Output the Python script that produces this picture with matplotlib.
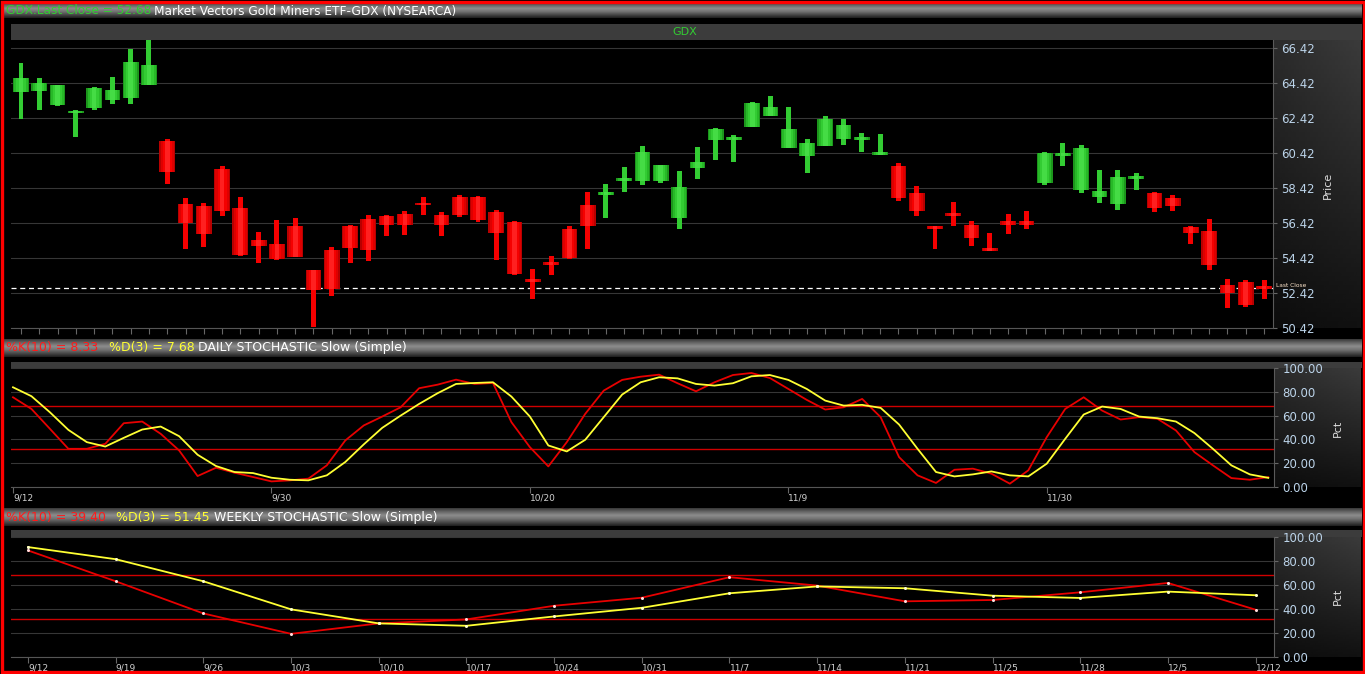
import numpy as np
import matplotlib
matplotlib.use('Agg')
import matplotlib.pyplot as plt
from matplotlib.patches import Rectangle

W, H = 1365, 674

# daily GDX candles (open, high, low, close)
opens = [63.94, 64.00, 63.18, 62.70, 63.00, 63.47, 63.56, 64.33, 61.09, 57.52,
         57.37, 59.50, 57.28, 55.45, 55.22, 56.23, 53.72, 54.90, 56.27, 56.67,
         56.84, 56.93, 57.58, 56.90, 57.94, 57.89, 57.03, 56.50, 53.20, 54.19,
         56.08, 57.47, 58.00, 58.86, 58.80, 58.80, 56.70, 59.56, 61.18, 61.20,
         61.92, 62.57, 60.73, 60.23, 60.82, 61.22, 61.20, 60.34, 59.66, 58.13,
         56.21, 57.00, 56.33, 54.99, 56.55, 56.52, 58.70, 60.30, 58.29, 57.94,
         57.52, 58.98, 58.13, 57.85, 56.21, 55.94, 52.90, 53.03, 52.80]
highs = [65.56, 64.74, 64.33, 62.90, 64.19, 64.76, 66.38, 67.20, 61.22, 57.85,
         57.56, 59.70, 57.90, 55.90, 56.61, 56.70, 53.75, 55.03, 56.29, 56.86,
         56.86, 57.12, 57.89, 57.03, 58.00, 57.98, 57.14, 56.52, 53.79, 54.55,
         56.23, 58.19, 58.65, 59.62, 60.80, 59.75, 59.37, 60.76, 61.85, 61.47,
         63.32, 63.70, 63.05, 61.22, 62.55, 62.36, 61.60, 61.52, 59.85, 58.55,
         56.23, 57.62, 56.52, 55.85, 56.93, 57.09, 60.48, 61.00, 60.86, 59.47,
         59.47, 59.28, 58.19, 58.04, 56.23, 56.65, 53.22, 53.14, 53.14]
lows = [62.36, 62.90, 63.10, 61.37, 62.90, 63.24, 63.24, 64.30, 58.67, 54.95,
        55.03, 56.80, 54.55, 54.13, 54.32, 54.46, 50.48, 52.23, 54.13, 54.27,
        55.70, 55.75, 56.90, 55.66, 56.74, 56.46, 54.32, 53.47, 52.08, 53.47,
        54.38, 54.95, 56.70, 58.19, 58.57, 58.74, 56.08, 58.95, 60.04, 59.94,
        61.90, 62.55, 60.71, 59.30, 60.80, 60.86, 60.46, 60.32, 57.66, 56.80,
        54.95, 56.23, 55.12, 54.84, 55.80, 56.08, 58.61, 59.66, 58.13, 57.56,
        57.14, 58.32, 57.03, 57.12, 55.24, 53.75, 51.56, 51.62, 52.08]
closes = [64.71, 64.42, 64.29, 62.84, 64.14, 64.04, 65.62, 65.47, 59.32, 56.42,
          55.81, 57.09, 54.58, 55.10, 54.36, 54.48, 52.57, 52.65, 55.00, 54.90,
          56.32, 56.32, 57.45, 56.32, 56.90, 56.61, 55.85, 53.52, 53.05, 54.00,
          54.40, 56.23, 58.18, 59.00, 60.46, 59.73, 58.50, 59.94, 61.81, 61.30,
          63.30, 63.05, 61.79, 60.99, 62.36, 62.04, 61.30, 60.50, 57.85, 57.09,
          56.10, 56.80, 55.56, 54.86, 56.30, 56.32, 60.42, 60.40, 60.71, 58.23,
          59.03, 59.08, 57.28, 57.41, 55.85, 54.04, 52.42, 51.75, 52.68]
last_close = 52.68
price_ticks = [50.42, 52.42, 54.42, 56.42, 58.42, 60.42, 62.42, 64.42, 66.42]

# daily stochastic slow
daily_k = [75.4, 65.6, 48.9, 32.1, 32.1, 36.3, 53.6, 55.0, 44.7, 30.7,
           9.2, 16.2, 12.0, 8.4, 4.7, 5.6, 7.0, 18.2, 39.1, 51.7,
           59.2, 67.0, 83.0, 86.0, 90.2, 86.6, 87.4, 54.5, 33.5, 17.3,
           37.7, 61.5, 81.0, 90.0, 92.7, 94.4, 87.2, 80.4, 88.0, 94.1,
           95.8, 91.6, 82.4, 73.2, 65.1, 67.0, 74.0, 58.7, 25.1, 9.8,
           3.4, 14.5, 15.4, 11.2, 2.8, 14.0, 41.9, 65.6, 75.4, 64.2,
           56.7, 58.7, 57.3, 47.5, 29.3, 18.2, 7.5, 6.1, 8.33]
daily_d = [83.8, 76.3, 62.8, 48.0, 37.7, 34.0, 41.3, 48.3, 50.8, 42.7,
           27.1, 17.6, 12.6, 11.7, 7.8, 6.1, 5.6, 9.8, 21.0, 35.8,
           49.7, 60.0, 69.8, 78.8, 86.6, 87.4, 88.0, 76.0, 59.2, 34.9,
           29.9, 39.7, 58.7, 77.7, 88.0, 92.2, 91.3, 86.6, 85.2, 87.2,
           93.0, 94.1, 90.0, 82.4, 72.6, 68.4, 69.0, 66.5, 52.5, 32.1,
           12.6, 8.9, 10.6, 13.1, 9.8, 8.9, 19.6, 40.5, 60.9, 67.6,
           65.6, 59.2, 57.8, 55.0, 45.3, 32.1, 18.2, 10.6, 7.68]
daily_tick_idx = [0, 14, 28, 42, 56]
daily_tick_labels = ['9/12', '9/30', '10/20', '11/9', '11/30']

# weekly stochastic slow
weeks = ['9/12', '9/19', '9/26', '10/3', '10/10', '10/17', '10/24', '10/31',
         '11/7', '11/14', '11/21', '11/25', '11/28', '12/5', '12/12']
weekly_k = [88.8, 63.1, 36.3, 19.3, 28.0, 31.3, 42.7, 49.4, 66.5, 59.5,
            46.4, 47.5, 53.9, 61.7, 39.40]
weekly_d = [91.6, 81.5, 63.1, 39.7, 28.0, 26.0, 33.8, 41.0, 53.1, 58.8,
            57.3, 51.1, 49.2, 54.5, 51.45]
pct_ticks = [0, 20, 40, 60, 80, 100]
bands = [32, 68]

GREEN = '#33cc33'
RED = '#ff1a1a'
YELLOW = '#ffff33'
AXIS_TXT = '#bcd4ea'
GRID = '#363636'

fig = plt.figure(figsize=(W / 100, H / 100), dpi=100, facecolor='black')

bg = fig.add_axes([0, 0, 1, 1])
bg.set_axis_off()


def vgrad(x0, x1, y0, y1, xs, vs, hlight=0.0):
    t = np.linspace(0, 1, 64)
    col = np.interp(t, xs, vs)
    img = np.repeat(col[:, None], 32, axis=1)
    if hlight:
        img = img * (1 + hlight * np.linspace(0, 1, 32)[None, :])
    bg.imshow(img, extent=(x0, x1, y1, y0), cmap='gray', vmin=0, vmax=1,
              aspect='auto', interpolation='bilinear', zorder=0)


# header bars
glossy = ([0, 0.2, 0.4, 0.6, 0.8, 1], [0.22, 0.40, 0.55, 0.45, 0.28, 0.12])
vgrad(3, W - 3, 2, 18, *glossy)
vgrad(3, W - 3, 339, 357, *glossy)
vgrad(3, W - 3, 508, 526, *glossy)

# thin gray bands on top of the panels
for y0, y1 in [(24, 40), (362, 368), (530, 537)]:
    bg.add_patch(Rectangle((11, y0), W - 14, y1 - y0, color='#3c3c3c', lw=0, zorder=1))

# right-side axis areas
for y0, y1 in [(40, 328), (368, 487), (537, 657)]:
    vgrad(1273, W - 4, y0, y1, [0, 1], [0.17, 0.05], hlight=0.35)

bg.add_patch(Rectangle((1.5, 1.5), W - 3, H - 3.5, fill=False, ec='#ff0000', lw=2.4, zorder=5))
bg.set_xlim(0, W)
bg.set_ylim(H, 0)


def px_axes(x0, y0, x1, y1):
    return fig.add_axes([x0 / W, 1 - y1 / H, (x1 - x0) / W, (y1 - y0) / H])


def style(ax):
    ax.set_facecolor('black')
    ax.spines['top'].set_visible(False)
    ax.spines['left'].set_visible(False)
    ax.spines['right'].set_color('#5a5a5a')
    ax.spines['bottom'].set_color('#555555')
    ax.yaxis.tick_right()
    ax.tick_params(axis='y', colors='#666666', labelcolor=AXIS_TXT,
                   labelsize=8.5, length=3, pad=3)
    ax.tick_params(axis='x', colors='#666666', labelcolor='#d0d0d0',
                   labelsize=6.5, length=4, pad=0.5)
    ax.grid(axis='y', color=GRID, lw=0.8)
    ax.set_axisbelow(True)


# price panel
ax = px_axes(11, 40, 1273, 328)
style(ax)
ax.set_xlim(-0.547, 68.49)
ax.set_ylim(50.42, 66.89)
ax.set_yticks(price_ticks)
ax.set_yticklabels(['%.2f' % v for v in price_ticks])
ax.set_xticks(range(len(opens)))
ax.set_xticklabels([])

green_shades = ['#1c961c', '#28b828', '#33cc33', '#45dc45']
red_shades = ['#b80000', '#dd0000', '#f50000', '#ff2020']
widths = [0.86, 0.72, 0.5, 0.26]
for i, (o, h, l, c) in enumerate(zip(opens, highs, lows, closes)):
    shades = green_shades if c >= o else red_shades
    ax.bar(i, h - l, bottom=l, width=0.27, color=shades[2], lw=0, zorder=3)
    lo, hi = min(o, c), max(o, c)
    if hi - lo < 0.16:
        mid = (hi + lo) / 2
        lo, hi = mid - 0.08, mid + 0.08
    for w, col in zip(widths, shades):
        ax.bar(i, hi - lo, bottom=lo, width=w, color=col, lw=0, zorder=4)

ax.axhline(last_close, color='white', lw=0.9, ls=(0, (4, 3)), zorder=2)
ax.text(1.002, last_close + 0.05, 'Last Close', transform=ax.get_yaxis_transform(),
        color='#ffe6cc', fontsize=4.2, va='bottom', ha='left')
fig.text(685 / W, 1 - 32 / H, 'GDX', color=GREEN, fontsize=8, ha='center', va='center')
fig.text(1328 / W, 1 - 185 / H, 'Price', color='#dddddd', fontsize=8,
         rotation=90, ha='center', va='center')

# daily stochastic
ax = px_axes(11, 368, 1274, 487)
style(ax)
ax.set_xlim(-0.108, 68.31)
ax.set_ylim(0, 100)
ax.set_yticks(pct_ticks)
ax.set_yticklabels(['%.2f' % v for v in pct_ticks])
ax.set_xticks(daily_tick_idx)
ax.set_xticklabels(daily_tick_labels)
for lbl in ax.get_xticklabels():
    lbl.set_ha('left')
for b in bands:
    ax.axhline(b, color='#d00000', lw=1.0, zorder=1)
x = np.arange(len(daily_k))
ax.plot(x, daily_k, color='#e80000', lw=1.3, zorder=3)
ax.plot(x, daily_d, color=YELLOW, lw=1.3, zorder=3)
fig.text(1338 / W, 1 - 428 / H, 'Pct', color='#dddddd', fontsize=8,
         rotation=90, ha='center', va='center')

# weekly stochastic
ax = px_axes(11, 537, 1274, 657)
style(ax)
ax.set_xlim(-0.194, 14.21)
ax.set_ylim(0, 100)
ax.set_yticks(pct_ticks)
ax.set_yticklabels(['%.2f' % v for v in pct_ticks])
ax.set_xticks(range(len(weeks)))
ax.set_xticklabels(weeks)
for lbl in ax.get_xticklabels():
    lbl.set_ha('left')
for b in bands:
    ax.axhline(b, color='#d00000', lw=1.0, zorder=1)
x = np.arange(len(weeks))
ax.plot(x, weekly_k, color='#e80000', lw=1.3, zorder=3,
        marker='o', ms=2.2, mfc='#ffdddd', mec='none')
ax.plot(x, weekly_d, color=YELLOW, lw=1.3, zorder=3,
        marker='o', ms=2.2, mfc='#ffffcc', mec='none')
fig.text(1338 / W, 1 - 596 / H, 'Pct', color='#dddddd', fontsize=8,
         rotation=90, ha='center', va='center')


def header(y, parts, size=9):
    txt, col, _ = parts[0]
    prev = fig.text(6 / W, 1 - y / H, txt, color=col, fontsize=size,
                    va='center', ha='left')
    for txt, col, gap in parts[1:]:
        prev = bg.annotate(txt, xy=(1, 0.5), xycoords=prev, xytext=(gap, 0),
                           textcoords='offset points', color=col, fontsize=size,
                           va='center', ha='left')


header(11, [('GDX.Last Close = 52.68', GREEN, 0),
            ('Market Vectors Gold Miners ETF-GDX (NYSEARCA)', 'white', 2)], size=8.7)
header(348, [('%%K(10) = %.2f' % daily_k[-1], RED, 0),
             ('%%D(3) = %.2f' % daily_d[-1], YELLOW, 7.5),
             ('DAILY STOCHASTIC Slow (Simple)', 'white', 2.5)])
header(517, [('%%K(10) = %.2f' % weekly_k[-1], RED, 0),
             ('%%D(3) = %.2f' % weekly_d[-1], YELLOW, 7.5),
             ('WEEKLY STOCHASTIC Slow (Simple)', 'white', 2.5)])

fig.savefig('out.png', dpi=100, facecolor='black')
